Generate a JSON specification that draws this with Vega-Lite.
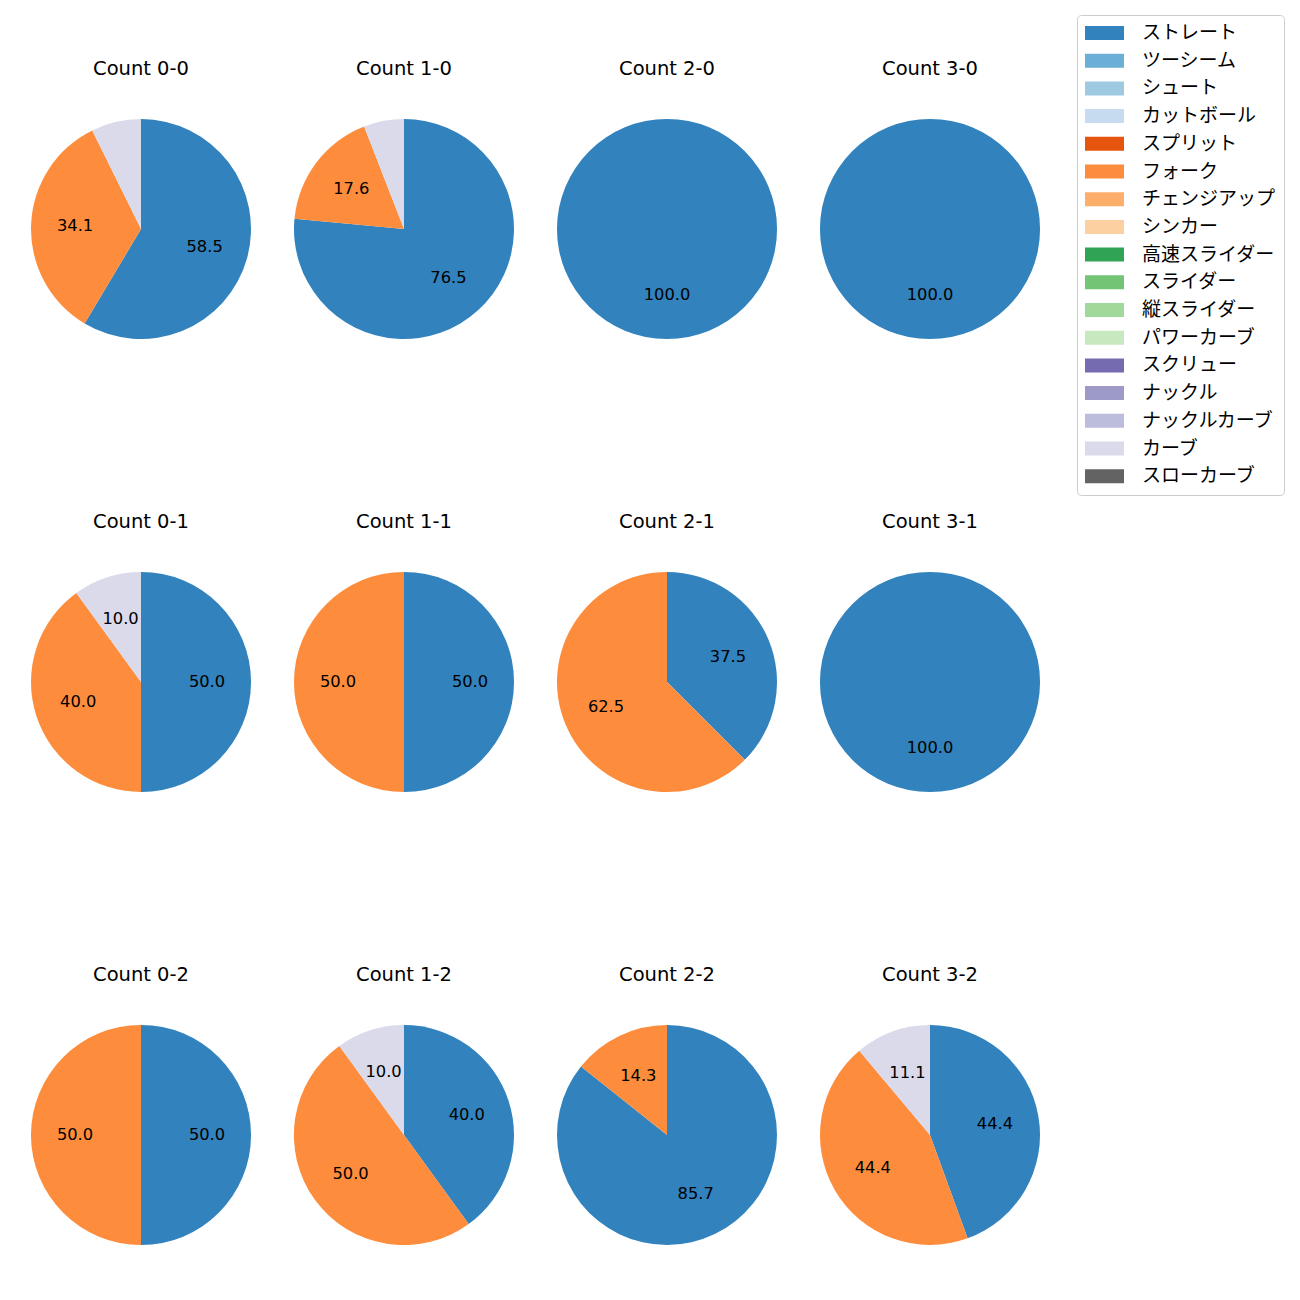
{
  "$schema": "https://vega.github.io/schema/vega-lite/v6.json",
  "padding": {"left": 31, "top": 14, "right": 0, "bottom": 0},
  "background": "white",
  "data": {"values": [
    {"count": "Count 0-0", "pitch": "ストレート", "o": 1, "pct": 58.5},
    {"count": "Count 0-0", "pitch": "フォーク", "o": 6, "pct": 34.1},
    {"count": "Count 0-0", "pitch": "カーブ", "o": 16, "pct": 7.3},
    {"count": "Count 1-0", "pitch": "ストレート", "o": 1, "pct": 76.5},
    {"count": "Count 1-0", "pitch": "フォーク", "o": 6, "pct": 17.6},
    {"count": "Count 1-0", "pitch": "カーブ", "o": 16, "pct": 5.9},
    {"count": "Count 2-0", "pitch": "ストレート", "o": 1, "pct": 100.0},
    {"count": "Count 3-0", "pitch": "ストレート", "o": 1, "pct": 100.0},
    {"count": "Count 0-1", "pitch": "ストレート", "o": 1, "pct": 50.0},
    {"count": "Count 0-1", "pitch": "フォーク", "o": 6, "pct": 40.0},
    {"count": "Count 0-1", "pitch": "カーブ", "o": 16, "pct": 10.0},
    {"count": "Count 1-1", "pitch": "ストレート", "o": 1, "pct": 50.0},
    {"count": "Count 1-1", "pitch": "フォーク", "o": 6, "pct": 50.0},
    {"count": "Count 2-1", "pitch": "ストレート", "o": 1, "pct": 37.5},
    {"count": "Count 2-1", "pitch": "フォーク", "o": 6, "pct": 62.5},
    {"count": "Count 3-1", "pitch": "ストレート", "o": 1, "pct": 100.0},
    {"count": "Count 0-2", "pitch": "ストレート", "o": 1, "pct": 50.0},
    {"count": "Count 0-2", "pitch": "フォーク", "o": 6, "pct": 50.0},
    {"count": "Count 1-2", "pitch": "ストレート", "o": 1, "pct": 40.0},
    {"count": "Count 1-2", "pitch": "フォーク", "o": 6, "pct": 50.0},
    {"count": "Count 1-2", "pitch": "カーブ", "o": 16, "pct": 10.0},
    {"count": "Count 2-2", "pitch": "ストレート", "o": 1, "pct": 85.7},
    {"count": "Count 2-2", "pitch": "フォーク", "o": 6, "pct": 14.3},
    {"count": "Count 3-2", "pitch": "ストレート", "o": 1, "pct": 44.4},
    {"count": "Count 3-2", "pitch": "フォーク", "o": 6, "pct": 44.4},
    {"count": "Count 3-2", "pitch": "カーブ", "o": 16, "pct": 11.1}
  ]},
  "facet": {
    "field": "count", "type": "nominal",
    "sort": ["Count 0-0", "Count 1-0", "Count 2-0", "Count 3-0", "Count 0-1", "Count 1-1", "Count 2-1", "Count 3-1", "Count 0-2", "Count 1-2", "Count 2-2", "Count 3-2"],
    "header": {"title": null, "labelFontSize": 19.5, "labelFont": "DejaVu Sans", "labelColor": "#000000", "labelPadding": 40}
  },
  "columns": 4,
  "spacing": {"row": 172, "column": 43},
  "spec": {
    "width": 220,
    "height": 220,
    "layer": [
      {
        "mark": {"type": "arc", "stroke": null},
        "encoding": {
          "theta": {"field": "pct", "type": "quantitative", "stack": "normalize"},
          "order": {"field": "o", "type": "quantitative"},
          "color": {
            "field": "pitch", "type": "nominal",
            "scale": {
              "domain": ["ストレート", "ツーシーム", "シュート", "カットボール", "スプリット", "フォーク", "チェンジアップ", "シンカー", "高速スライダー", "スライダー", "縦スライダー", "パワーカーブ", "スクリュー", "ナックル", "ナックルカーブ", "カーブ", "スローカーブ"],
              "range": ["#3182bd", "#6baed6", "#9ecae1", "#c6dbef", "#e6550d", "#fd8d3c", "#fdae6b", "#fdd0a2", "#31a354", "#74c476", "#a1d99b", "#c7e9c0", "#756bb1", "#9e9ac8", "#bcbddc", "#dadaeb", "#636363"]
            },
            "legend": {
              "title": null,
              "orient": "none",
              "legendX": 1046,
              "legendY": -104,
              "direction": "vertical",
              "strokeColor": "#cccccc",
              "fillColor": "#ffffff",
              "cornerRadius": 4,
              "padding": 8,
              "symbolType": "M-1,-0.7H2.9V0.7H-1Z",
              "symbolSize": 400,
              "symbolStrokeWidth": 0,
              "symbolOpacity": 1,
              "labelFontSize": 19,
              "labelFont": "Noto Sans CJK JP",
              "labelColor": "#000000",
              "labelOffset": 37,
              "labelLimit": 300,
              "rowPadding": 7.7
            }
          }
        }
      },
      {
        "mark": {"type": "text", "radius": 66, "align": "center", "baseline": "middle", "fontSize": 16.3, "font": "DejaVu Sans", "color": "#000000"},
        "encoding": {
          "theta": {"field": "pct", "type": "quantitative", "stack": "normalize"},
          "order": {"field": "o", "type": "quantitative"},
          "detail": {"field": "pitch", "type": "nominal"},
          "text": {"condition": {"test": "datum.pct < 10", "value": ""}, "field": "pct", "type": "quantitative", "format": ".1f"}
        }
      }
    ]
  },
  "config": {"view": {"stroke": null}}
}
